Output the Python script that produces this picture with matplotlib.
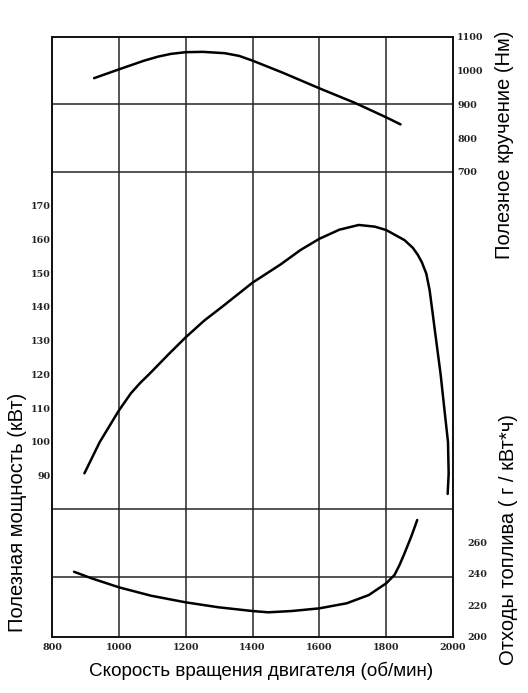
import matplotlib
matplotlib.use("Agg")
import matplotlib.pyplot as plt
from matplotlib.ticker import FixedLocator

# ---------------- data ----------------
rpm_ticks = [800, 1000, 1200, 1400, 1600, 1800, 2000]
power_ticks = [90, 100, 110, 120, 130, 140, 150, 160, 170]
torque_ticks = [700, 800, 900, 1000, 1100]
fuel_ticks = [200, 220, 240, 260]

rpm_power = [897, 943, 1000, 1036, 1064, 1092, 1149, 1200, 1256, 1311, 1400,
             1484, 1544, 1600, 1660, 1718, 1766, 1800, 1855, 1880, 1895, 1907,
             1920, 1930, 1938, 1945, 1963, 1975, 1985, 1987, 1984]
power = [90.7, 100, 109.3, 114.4, 117.5, 120.2, 126, 131, 136, 140.2, 147.2,
         152.6, 156.9, 160.2, 162.9, 164.3, 163.8, 162.8, 159.8, 157.5, 155.4,
         153.2, 149.9, 145, 139, 133.6, 120, 109, 100, 90.6, 84.6]

rpm_torque = [926, 1000, 1076, 1118, 1156, 1200, 1251, 1317, 1360, 1400, 1491,
              1600, 1706, 1800, 1843]
torque = [978, 1004, 1030, 1042, 1050, 1055, 1056, 1052, 1044, 1030, 994,
          948, 905, 862, 841]

rpm_fuel = [866, 918, 1000, 1096, 1200, 1297, 1400, 1447, 1517, 1600, 1682,
            1748, 1800, 1825, 1840, 1855, 1875, 1893]
fuel = [241.2, 237.1, 231.4, 226.1, 221.9, 218.8, 216.4, 215.6, 216.4, 218.1,
        221.3, 226.5, 233.9, 239.2, 245.5, 252.9, 263.4, 273.9]

x_label = "Скорость вращения двигателя (об/мин)"
power_label = "Полезная мощность (кВт)"
torque_label = "Полезное кручение (Нм)"
fuel_label = "Отходы топлива ( г / кВт*ч)"

# ---------------- figure ----------------
W, H = 528, 693
fig = plt.figure(figsize=(W / 100, H / 100), dpi=100)
fig.patch.set_facecolor("white")

L, R, T, B = 52, 453, 37, 637
ax = fig.add_axes([L / W, 1 - B / H, (R - L) / W, (B - T) / H])

tick_font = dict(family="DejaVu Serif", size=6.8, weight="bold")
xlabel_font = dict(family="Liberation Sans", size=13.6)
vlabel_font = dict(family="Liberation Sans", size=14.5)
grid_col = "#262626"
curve = dict(color="black", lw=1.8, solid_capstyle="round",
             solid_joinstyle="round", zorder=5)

ax.set_xlim(800, 2000)
ax.set_ylim(42.2, 220)

ax.set_xticks(rpm_ticks)
ax.set_xticklabels([str(v) for v in rpm_ticks], fontdict=tick_font, color="#222")
ax.set_yticks(power_ticks)
ax.set_yticklabels([str(v) for v in power_ticks], fontdict=tick_font, color="#222")
ax.yaxis.set_minor_locator(FixedLocator(list(range(60, 201, 20))))
ax.tick_params(axis="both", which="both", length=0)
ax.tick_params(axis="x", pad=4)
ax.tick_params(axis="y", pad=1)
ax.grid(False)
ax.xaxis.grid(True, which="major", color=grid_col, lw=1.1)
ax.yaxis.grid(True, which="minor", color=grid_col, lw=1.1)
for s in ax.spines.values():
    s.set_color("#111")
    s.set_linewidth(1.4)

ax.plot(rpm_power, power, **curve)

# torque axis (right, upper)
ax_t = ax.twinx()
ax_t.set_ylim(-678, 1100)
ax_t.set_yticks(torque_ticks)
ax_t.set_yticklabels([str(v) for v in torque_ticks], fontdict=tick_font, color="#222")
ax_t.tick_params(axis="y", length=0, pad=3)
for s in ax_t.spines.values():
    s.set_visible(False)
ax_t.plot(rpm_torque, torque, **curve)

# fuel axis (right, lower)
ax_f = ax.twinx()
ax_f.set_ylim(200, 579)
ax_f.set_yticks(fuel_ticks)
ax_f.set_yticklabels([str(v) for v in fuel_ticks], fontdict=tick_font, color="#222")
ax_f.tick_params(axis="y", length=0, pad=10)
for s in ax_f.spines.values():
    s.set_visible(False)
ax_f.plot(rpm_fuel, fuel, **curve)

# axis titles
fig.text(261 / W, 1 - 671 / H, x_label, ha="center", va="center", **xlabel_font)
fig.text(18 / W, 1 - 512 / H, power_label, ha="center", va="center",
         rotation=90, **vlabel_font)
fig.text(505 / W, 1 - 145 / H, torque_label, ha="center", va="center",
         rotation=90, **vlabel_font)
fig.text(508 / W, 1 - 540 / H, fuel_label, ha="center", va="center",
         rotation=90, **vlabel_font)

fig.savefig("out.png", dpi=100, facecolor="white")
